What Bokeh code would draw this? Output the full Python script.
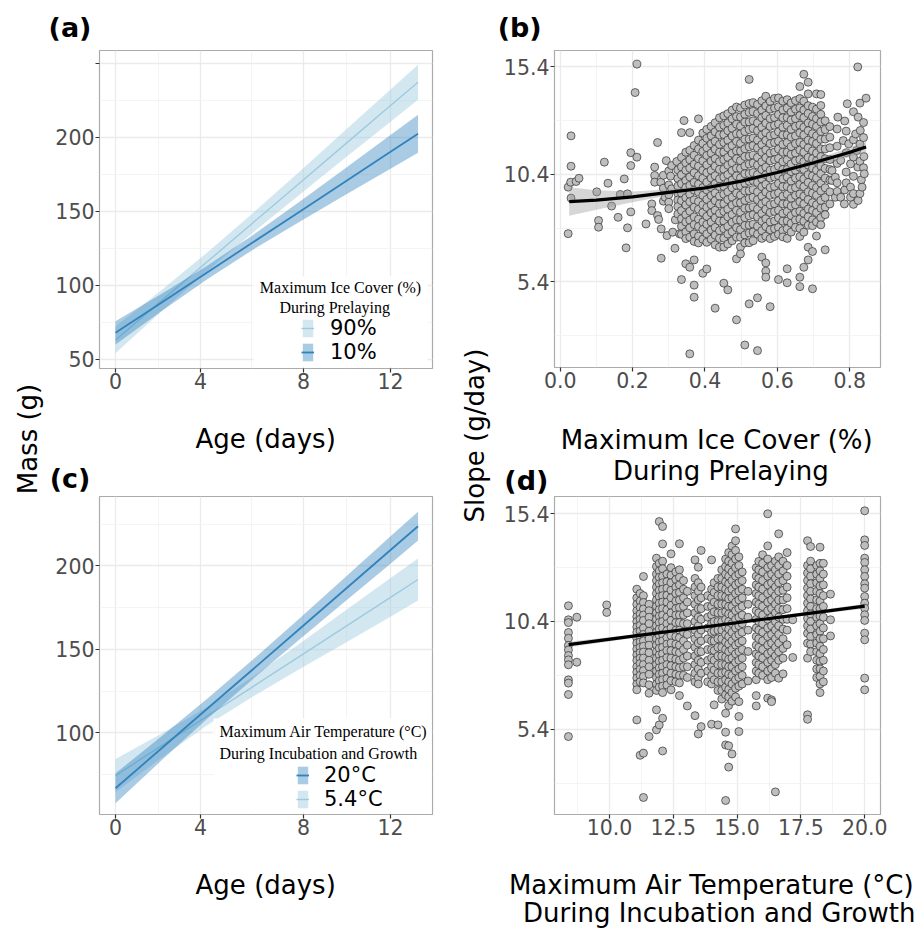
import math
from bokeh.plotting import figure
from bokeh.models import Range1d, FixedTicker, Label, Legend, LegendItem, BoxAnnotation, Div
from bokeh.layouts import row, column
from bokeh.embed import file_html
from bokeh.resources import INLINE

# ------------------------------------------------------------------ data
AGE = [0, 2, 4, 6, 8, 10, 12, 13.2]
AGE_TICKS = [0, 3.71, 8.2, 12]
AGE_TICK_LABELS = ["0", "4", "8", "12"]

# panel (a): predicted mass by ice cover
ICE90_FIT = [63.0, 89.4, 115.8, 142.2, 168.6, 195.0, 221.4, 237.2]
ICE90_LO = [54.0, 82.2, 109.5, 135.6, 160.8, 185.7, 210.5, 225.4]
ICE90_HI = [72.0, 96.6, 122.1, 148.8, 176.4, 204.3, 232.3, 249.0]
ICE10_FIT = [67.8, 88.2, 108.6, 129.0, 149.3, 169.7, 190.1, 202.3]
ICE10_LO = [60.0, 82.4, 104.0, 124.0, 142.5, 160.7, 178.7, 189.5]
ICE10_HI = [75.6, 94.0, 113.2, 134.0, 156.1, 178.7, 201.5, 215.1]

# panel (c): predicted mass by air temperature
T20_FIT = [66.8, 90.6, 114.4, 138.1, 161.9, 185.7, 209.5, 223.7]
T20_LO = [57.8, 83.4, 108.4, 132.3, 155.6, 178.5, 201.3, 215.1]
T20_HI = [75.8, 97.8, 120.4, 143.9, 168.2, 192.9, 217.7, 232.3]
T54_FIT = [74.4, 92.2, 110.0, 127.7, 145.5, 163.3, 181.1, 191.8]
T54_LO = [64.4, 85.0, 104.5, 121.7, 137.9, 153.7, 169.5, 179.2]
T54_HI = [84.4, 99.4, 115.5, 133.7, 153.1, 172.9, 192.7, 204.4]

# panel (b): smooth of slope on ice cover
ICE_SM_X = [0.025, 0.1, 0.2, 0.3, 0.4, 0.5, 0.6, 0.7, 0.8, 0.845]
ICE_SM_Y = [9.13, 9.2, 9.35, 9.56, 9.76, 10.08, 10.48, 10.93, 11.42, 11.66]
ICE_SM_LO = [8.47, 8.75, 9.10, 9.42, 9.66, 9.98, 10.38, 10.80, 11.20, 11.36]
ICE_SM_HI = [9.79, 9.65, 9.60, 9.70, 9.86, 10.18, 10.58, 11.06, 11.64, 11.96]

# panel (d): linear fit of slope on temperature
TMP_SM_X = [8.4, 11, 14, 17, 20]
TMP_SM_Y = [9.33, 9.73, 10.19, 10.65, 11.11]
TMP_SM_LO = [9.20, 9.65, 10.14, 10.58, 11.00]
TMP_SM_HI = [9.46, 9.81, 10.24, 10.72, 11.22]

# panel (b) points: ice cover -> slopes
ICE_GROUPS = {
    0.022: [9.80, 7.64], 0.029: [10.03], 0.030: [12.18, 10.77, 9.29],
    0.044: [10.06], 0.052: [10.21], 0.101: [9.58], 0.106: [8.25, 7.94],
    0.122: [10.96], 0.132: [9.98], 0.142: [8.92], 0.160: [8.40],
    0.166: [9.46], 0.177: [10.18], 0.182: [6.98], 0.186: [9.49, 7.91],
    0.195: [11.40, 10.80, 8.65], 0.207: [14.19], 0.212: [15.51, 11.19],
    0.237: [8.09], 0.253: [9.02, 8.71], 0.261: [10.73, 10.34, 10.03],
    0.269: [11.87, 8.48], 0.272: [8.30], 0.278: [10.03], 0.279: [7.86, 6.50],
    0.285: [10.35, 9.75, 9.15], 0.290: [9.33], 0.293: [11.03], 0.295: [7.55],
    0.300: [10.55, 9.90, 9.45, 9.10, 8.80], 0.305: [10.31], 0.308: [10.80, 9.72],
    0.311: [7.71], 0.317: [6.96], 0.318: [8.28], 0.322: [10.99],
    0.325: [10.60, 10.20, 9.85, 9.50, 9.20, 8.90, 8.55], 0.330: [7.63],
    0.342: [12.89],
    0.335: [12.33, 11.18, 10.74, 10.37, 9.96, 9.52, 9.17, 8.71, 8.33, 7.98, 7.61, 5.51],
    0.347: [11.42, 10.93, 10.58, 10.11, 9.78, 9.31, 8.97, 8.52, 8.18, 7.72, 7.41, 6.24],
    0.358: [12.33, 11.51, 11.07, 10.68, 10.27, 9.88, 9.47, 9.12, 8.68, 8.27, 7.91, 7.48, 6.08, 2.06],
    0.370: [11.73, 11.28, 10.86, 10.47, 10.02, 9.66, 9.21, 8.87, 8.42, 8.06, 7.63, 7.28, 6.42, 5.25, 4.69],
    0.382: [12.97, 11.98, 11.57, 11.12, 10.77, 10.33, 9.94, 9.57, 9.13, 8.77, 8.31, 7.97, 7.52, 7.21],
    0.394: [12.31, 11.83, 11.46, 11.02, 10.58, 10.21, 9.78, 9.42, 8.98, 8.62, 8.18, 7.83, 7.38, 5.80],
    0.405: [12.48, 12.07, 11.63, 11.27, 10.83, 10.47, 10.03, 9.67, 9.23, 8.86, 8.44, 8.07, 7.63, 7.24, 6.00],
    0.417: [12.62, 12.18, 11.81, 11.38, 11.01, 10.58, 10.22, 9.78, 9.41, 8.98, 8.61, 8.18, 7.81, 7.38],
    0.428: [12.79, 12.37, 11.93, 11.56, 11.13, 10.77, 10.33, 9.96, 9.53, 9.17, 8.73, 8.37, 7.93, 7.57, 7.12, 4.18],
    0.440: [13.02, 12.58, 12.22, 11.78, 11.42, 10.98, 10.62, 10.18, 9.82, 9.38, 9.02, 8.58, 8.22, 7.78, 7.42, 7.01],
    0.452: [13.11, 12.67, 12.24, 11.87, 11.43, 11.07, 10.63, 10.27, 9.83, 9.47, 9.03, 8.67, 8.23, 7.87, 7.43, 7.02, 5.34],
    0.463: [13.21, 12.78, 12.42, 11.98, 11.62, 11.18, 10.82, 10.38, 10.02, 9.58, 9.22, 8.78, 8.42, 7.98, 7.62, 7.16, 5.03],
    0.475: [13.38, 12.97, 12.53, 12.17, 11.73, 11.37, 10.93, 10.57, 10.13, 9.77, 9.33, 8.97, 8.53, 8.17, 7.73, 7.31],
    0.487: [13.52, 13.08, 12.72, 12.28, 11.92, 11.48, 11.12, 10.68, 10.32, 9.88, 9.52, 9.08, 8.72, 8.28, 7.92, 7.48, 6.47, 3.64],
    0.498: [13.47, 13.06, 12.63, 12.27, 11.83, 11.47, 11.03, 10.67, 10.23, 9.87, 9.43, 9.07, 8.63, 8.27, 7.83, 7.47, 7.02, 6.70],
    0.510: [13.61, 13.18, 12.82, 12.38, 12.02, 11.58, 11.22, 10.78, 10.42, 9.98, 9.62, 9.18, 8.82, 8.38, 8.02, 7.58, 7.21, 2.47],
    0.522: [14.80, 13.68, 13.27, 12.83, 12.47, 12.03, 11.67, 11.23, 10.87, 10.43, 10.07, 9.63, 9.27, 8.83, 8.47, 8.03, 7.67, 7.22, 4.38],
    0.533: [13.72, 13.31, 12.88, 12.52, 12.08, 11.72, 11.28, 10.92, 10.48, 10.12, 9.68, 9.32, 8.88, 8.52, 8.08, 7.72, 7.31],
    0.545: [13.64, 13.22, 12.78, 12.42, 11.98, 11.62, 11.18, 10.82, 10.38, 10.02, 9.58, 9.22, 8.78, 8.42, 7.98, 7.62, 4.66, 2.21],
    0.557: [13.81, 13.38, 13.02, 12.58, 12.22, 11.78, 11.42, 10.98, 10.62, 10.18, 9.82, 9.38, 9.02, 8.58, 8.22, 7.78, 7.42, 6.55],
    0.568: [14.02, 13.57, 13.13, 12.77, 12.33, 11.97, 11.53, 11.17, 10.73, 10.37, 9.93, 9.57, 9.13, 8.77, 8.33, 7.97, 7.52, 6.28, 5.90, 5.62],
    0.580: [13.78, 13.42, 12.98, 12.62, 12.18, 11.82, 11.38, 11.02, 10.58, 10.22, 9.78, 9.42, 8.98, 8.62, 8.18, 7.82, 7.41, 4.25],
    0.592: [13.92, 13.47, 13.03, 12.67, 12.23, 11.87, 11.43, 11.07, 10.63, 10.27, 9.83, 9.47, 9.03, 8.67, 8.23, 7.87, 7.51],
    0.603: [13.94, 13.53, 13.17, 12.73, 12.37, 11.93, 11.57, 11.13, 10.77, 10.33, 9.97, 9.53, 9.17, 8.73, 8.37, 7.93, 7.61, 5.51],
    0.615: [13.79, 13.38, 13.02, 12.58, 12.22, 11.78, 11.42, 10.98, 10.62, 10.18, 9.82, 9.38, 9.02, 8.58, 8.22, 7.78, 7.49],
    0.627: [13.86, 13.47, 13.03, 12.67, 12.23, 11.87, 11.43, 11.07, 10.63, 10.27, 9.83, 9.47, 9.03, 8.67, 8.23, 7.87, 7.42, 6.01, 5.36],
    0.638: [13.71, 13.28, 12.92, 12.48, 12.12, 11.68, 11.32, 10.88, 10.52, 10.08, 9.72, 9.28, 8.92, 8.48, 8.12, 7.71],
    0.650: [13.82, 13.42, 12.98, 12.62, 12.18, 11.82, 11.38, 11.02, 10.58, 10.22, 9.78, 9.42, 8.98, 8.62, 8.27, 7.93],
    0.662: [14.47, 13.91, 13.48, 13.12, 12.68, 12.32, 11.88, 11.52, 11.08, 10.72, 10.28, 9.92, 9.48, 9.12, 8.68, 8.32, 7.88, 7.51, 5.62, 5.18],
    0.673: [15.04, 13.79, 13.38, 13.02, 12.58, 12.22, 11.78, 11.42, 10.98, 10.62, 10.18, 9.82, 9.38, 9.02, 8.58, 8.22, 7.71, 6.08],
    0.685: [14.67, 14.13, 13.58, 13.22, 12.78, 12.42, 11.98, 11.62, 11.18, 10.82, 10.38, 10.02, 9.58, 9.22, 8.78, 8.42, 8.03, 7.01, 6.42],
    0.697: [13.51, 13.08, 12.72, 12.28, 11.92, 11.48, 11.12, 10.68, 10.32, 9.88, 9.52, 9.08, 8.72, 8.28, 8.01, 6.81, 5.08],
    0.708: [14.13, 13.42, 12.98, 12.62, 12.18, 11.82, 11.38, 11.02, 10.58, 10.22, 9.78, 9.42, 8.98, 8.62, 8.18, 7.53],
    0.720: [14.10, 13.59, 13.18, 12.82, 12.38, 12.02, 11.58, 11.22, 10.78, 10.42, 9.98, 9.62, 9.18, 8.82, 8.38, 8.05],
    0.732: [12.88, 12.47, 12.03, 11.57, 11.12, 10.67, 10.22, 9.77, 9.32, 8.87, 8.52, 6.89],
    0.745: [12.61, 12.12, 11.63, 11.08, 10.62, 10.13, 9.58, 9.02],
    0.751: [10.57, 10.11], 0.760: [10.26, 9.33], 0.765: [12.5, 11.7, 10.9, 10.0, 9.6],
    0.767: [13.05], 0.775: [11.04, 9.33], 0.782: [11.96], 0.785: [9.02],
    0.786: [12.87, 9.67], 0.790: [12.4, 11.4, 10.5, 10.0], 0.793: [13.67],
    0.797: [11.81], 0.802: [10.88, 9.80, 9.33], 0.810: [13.3, 12.0, 11.2, 10.3, 9.5, 9.0],
    0.816: [12.27], 0.819: [11.50], 0.822: [15.38, 10.73], 0.823: [13.05, 9.18],
    0.828: [13.7, 11.8, 11.0, 9.5], 0.829: [12.43], 0.832: [10.14], 0.834: [9.80],
    0.838: [12.8, 12.1, 10.7], 0.839: [11.22], 0.840: [10.42], 0.845: [13.93],
}

# panel (d) points: max air temperature -> slopes
TEMP_GROUPS = {
    8.39: [11.13, 10.48, 10.35, 9.89, 9.62, 9.29, 9.08, 8.82, 8.62, 8.39, 7.69, 7.54, 7.01, 5.06],
    8.72: [10.6, 8.51],
    9.89: [11.17, 10.82],
    11.07: [11.9, 11.5, 11.2, 10.9, 10.62, 10.4, 10.15, 9.9, 9.62, 9.4, 9.12, 8.85, 8.6, 8.3, 8.05, 7.78, 7.5, 7.23, 5.83],
    11.2: [11.7, 11.35, 11.05, 10.75, 10.5, 10.22, 9.95, 9.7, 9.45, 9.2, 8.95, 8.7, 8.45, 8.18, 7.9, 7.6, 4.19],
    11.33: [12.49, 11.6, 11.28, 10.98, 10.7, 10.45, 10.1, 9.8, 9.5, 9.25, 8.98, 8.7, 8.4, 8.12, 7.85, 7.55, 4.29, 2.23],
    11.55: [11.2, 10.9, 10.6, 10.3, 9.95, 9.6, 9.3, 8.95, 8.6, 8.3, 7.95, 7.46, 7.07, 5.06],
    11.84: [13.34, 12.95, 12.6, 12.3, 12.0, 11.7, 11.4, 11.1, 10.8, 10.5, 10.2, 9.9, 9.6, 9.3, 9.0, 8.7, 8.4, 8.1, 7.8, 7.5, 7.2, 6.30, 5.37],
    11.95: [15.04, 13.1, 12.75, 12.45, 12.15, 11.85, 11.55, 11.25, 10.95, 10.65, 10.35, 10.05, 9.75, 9.45, 9.15, 8.85, 8.55, 8.25, 7.95, 7.65, 7.35, 5.6],
    12.08: [14.81, 14.0, 13.2, 12.85, 12.5, 12.2, 11.9, 11.6, 11.3, 11.0, 10.7, 10.4, 10.1, 9.8, 9.5, 9.2, 8.9, 8.6, 8.3, 8.0, 7.7, 7.4, 7.1, 5.91, 4.39],
    12.25: [12.6, 12.25, 11.95, 11.62, 11.3, 10.95, 10.6, 10.3, 9.98, 9.65, 9.35, 9.05, 8.72, 8.4, 8.1, 7.75, 7.45],
    12.41: [13.54, 12.9, 12.55, 12.2, 11.85, 11.5, 11.15, 10.8, 10.45, 10.1, 9.75, 9.4, 9.05, 8.7, 8.35, 8.0, 7.65, 7.23],
    12.6: [12.7, 12.35, 12.0, 11.7, 11.35, 11.0, 10.7, 10.35, 10.0, 9.7, 9.35, 9.0, 8.65, 8.3, 7.95, 7.6],
    12.74: [14.01, 12.8, 12.45, 12.1, 11.75, 11.4, 11.05, 10.7, 10.35, 10.0, 9.65, 9.3, 8.95, 8.6, 8.25, 7.9, 7.55, 6.96],
    12.9: [12.3, 11.9, 11.5, 11.1, 10.7, 10.3, 9.9, 9.5, 9.1, 8.7, 8.3, 7.9],
    13.05: [11.8, 11.3, 10.8, 10.3, 9.8, 9.3, 8.8, 8.3, 7.8, 6.48],
    13.35: [13.26, 12.4, 12.0, 11.6, 11.2, 10.8, 10.4, 10.0, 9.6, 9.2, 8.8, 8.4, 8.0, 7.6, 6.03],
    13.48: [12.92, 12.2, 11.8, 11.4, 11.0, 10.6, 10.2, 9.8, 9.4, 9.0, 8.6, 8.2, 7.8, 7.5, 5.18],
    13.59: [13.7, 12.0, 11.5, 11.0, 10.5, 10.0, 9.5, 9.0, 8.5, 8.0, 5.52],
    13.85: [11.6, 11.1, 10.6, 10.1, 9.6, 9.1, 8.6, 8.1, 7.6],
    14.0: [13.26, 11.9, 11.5, 11.1, 10.7, 10.3, 9.9, 9.5, 9.1, 8.7, 8.3, 7.9, 7.5, 5.63],
    14.1: [12.2, 11.75, 11.3, 10.85, 10.4, 9.95, 9.5, 9.05, 8.6, 8.15, 7.7, 6.53],
    14.25: [12.4, 12.0, 11.6, 11.2, 10.8, 10.4, 10.0, 9.6, 9.2, 8.8, 8.4, 8.0, 7.6, 7.2, 5.6],
    14.4: [12.8, 12.4, 12.0, 11.6, 11.2, 10.8, 10.4, 10.0, 9.6, 9.2, 8.8, 8.4, 8.0, 7.6, 7.2, 6.8],
    14.55: [13.3, 12.95, 12.6, 12.25, 11.9, 11.55, 11.2, 10.85, 10.5, 10.15, 9.8, 9.45, 9.1, 8.75, 8.4, 8.05, 7.7, 7.35, 7.0, 6.14, 5.26, 4.67, 2.09],
    14.67: [13.6, 13.2, 12.85, 12.5, 12.15, 11.8, 11.45, 11.1, 10.75, 10.4, 10.05, 9.7, 9.35, 9.0, 8.65, 8.3, 7.95, 7.6, 7.25, 6.9, 6.5, 4.63, 3.64],
    14.8: [13.9, 13.5, 13.1, 12.7, 12.3, 11.9, 11.5, 11.1, 10.7, 10.3, 9.9, 9.5, 9.1, 8.7, 8.3, 7.9, 7.5, 7.1, 6.7, 4.25],
    14.94: [14.7, 14.15, 13.7, 13.3, 12.9, 12.5, 12.1, 11.7, 11.3, 10.9, 10.5, 10.1, 9.7, 9.3, 8.9, 8.5, 8.1, 7.7, 7.3, 6.9],
    15.07: [13.4, 13.0, 12.6, 12.2, 11.8, 11.4, 11.0, 10.6, 10.2, 9.8, 9.4, 9.0, 8.6, 8.2, 7.8, 7.4, 6.68, 5.99, 5.29],
    15.2: [12.7, 12.3, 11.9, 11.5, 11.1, 10.7, 10.3, 9.9, 9.5, 9.1, 8.7, 8.3, 7.9, 7.5],
    15.43: [11.8, 11.2, 10.6, 10.0, 9.01, 7.64],
    15.75: [12.9, 12.5, 12.1, 11.7, 11.3, 10.9, 10.5, 10.1, 9.7, 9.3, 8.9, 8.5, 8.1, 7.7, 6.96, 6.48],
    15.85: [13.19, 12.8, 12.4, 12.0, 11.6, 11.2, 10.8, 10.4, 10.0, 9.6, 9.2, 8.8, 8.4, 8.0],
    16.0: [13.5, 13.1, 12.7, 12.3, 11.9, 11.5, 11.1, 10.7, 10.3, 9.9, 9.5, 9.1, 8.7, 8.3, 7.9],
    16.2: [15.4, 13.91, 13.3, 12.9, 12.5, 12.1, 11.7, 11.3, 10.9, 10.5, 10.1, 9.7, 9.3, 8.9, 8.5, 8.1, 7.7, 6.84],
    16.35: [13.0, 12.6, 12.2, 11.8, 11.4, 11.0, 10.6, 10.2, 9.8, 9.4, 9.0, 8.6, 8.2, 7.8, 6.76, 6.68],
    16.5: [13.2, 12.8, 12.4, 12.0, 11.6, 11.2, 10.8, 10.4, 10.0, 9.6, 9.2, 8.8, 8.4, 8.0, 2.49],
    16.63: [14.47, 13.4, 13.0, 12.6, 12.2, 11.8, 11.4, 11.0, 10.6, 10.2, 9.8, 9.4, 9.0, 8.6, 7.77],
    16.8: [13.2, 12.75, 12.3, 11.85, 11.4, 10.95, 10.5, 10.05, 9.6, 9.15, 8.7, 7.97],
    16.96: [13.6, 13.0, 12.5, 12.0, 11.5, 11.0, 10.5, 10.0, 9.32],
    17.18: [10.48, 8.73],
    17.76: [14.15, 13.0, 12.65, 12.3, 11.95, 11.6, 11.25, 10.9, 10.55, 10.2, 9.85, 9.39, 8.7, 6.07, 5.86],
    17.88: [13.88, 13.2, 12.85, 12.5, 12.15, 11.8, 11.45, 11.1, 10.75, 10.4, 10.05, 9.7, 9.35, 9.0],
    18.12: [13.0, 12.6, 12.2, 11.8, 11.4, 11.0, 10.6, 10.2, 9.8, 9.4, 9.0, 8.6, 8.2, 7.8],
    18.25: [13.85, 13.1, 12.75, 12.4, 12.05, 11.7, 11.35, 11.0, 10.65, 10.3, 9.95, 9.6, 9.25, 8.9, 8.55, 8.2, 7.85, 7.5, 7.1],
    18.38: [13.1, 12.6, 12.1, 11.6, 11.1, 10.6, 10.1, 9.6, 9.1, 8.6, 8.1, 7.6],
    18.66: [11.67, 10.48, 9.73],
    20.0: [15.54, 14.19, 13.93, 13.34, 13.14, 12.8, 12.49, 12.15, 11.95, 11.56, 11.25, 11.02, 10.71, 10.45, 9.86, 9.55, 7.77, 7.23],
}

# ------------------------------------------------------------------ style
SANS = "DejaVu Sans"
SERIF = "Liberation Serif"
TICK_SIZE = 20.5
TITLE_SIZE = 26
LETTER_SIZE = 27
LEG_TITLE_SIZE = 16
LIGHT = "#9ECAE1"
DARK = "#3182BD"
MID = 0.31       # 'middle' anchor above the baseline (em), for canvas labels
ASC = 0.846      # baseline below the top of a line-height:1 box (em), DejaVu Sans

CFG = {
    "a": dict(left=50, top=49, w=405, h=351, bl=49, br=23, bt=1, bb=32,
              xr=(-0.698, 13.831), yr=(43.7, 258.6)),
    "c": dict(left=50, top=495, w=405, h=351, bl=49, br=23, bt=1, bb=32,
              xr=(-0.698, 13.831), yr=(51.1, 241.5)),
    "b": dict(left=497, top=49, w=423, h=350, bl=57, br=40, bt=1, bb=32,
              xr=(-0.0157, 0.8848), yr=(1.426, 16.143)),
    "d": dict(left=497, top=495, w=423, h=351, bl=57, br=40, bt=1, bb=32,
              xr=(7.845, 20.619), yr=(1.44, 16.203)),
}


def to_data(cfg, ix, iy):
    fl = cfg["left"] + cfg["bl"]
    fr = cfg["left"] + cfg["w"] - cfg["br"]
    ft = cfg["top"] + cfg["bt"]
    fb = cfg["top"] + cfg["h"] - cfg["bb"]
    x0, x1 = cfg["xr"]
    y0, y1 = cfg["yr"]
    return (x0 + (ix - fl) / (fr - fl) * (x1 - x0),
            y1 - (iy - ft) / (fb - ft) * (y1 - y0))


def frame_text(p, cfg, ix, baseline, text, font, size, align="center"):
    x, y = to_data(cfg, ix, baseline - MID * size)
    p.add_layout(Label(x=x, y=y, text=text, text_font=font, text_font_size=f"{size}px",
                       text_align=align, text_baseline="middle", text_color="black"))


def white_box(p, cfg, l, t, r, b):
    x0, y0 = to_data(cfg, l, b)
    x1, y1 = to_data(cfg, r, t)
    p.add_layout(BoxAnnotation(left=x0, right=x1, bottom=y0, top=y1,
                               fill_color="white", fill_alpha=1.0,
                               line_alpha=0, level="annotation"))


def text_block(left, top, w, h, items):
    """Texts lying between the plot frames (axis titles, panel letters)."""
    spans = []
    for it in items:
        size = it.get("size", TITLE_SIZE)
        weight = "bold" if it.get("bold") else "normal"
        x = it["x"] - left
        y = it["base"] - top - ASC * size
        spans.append(
            f'<span style="position:absolute;left:{x:.1f}px;top:{y:.1f}px;'
            f'transform:translateX(-50%);font-family:\'DejaVu Sans\';'
            f'font-size:{size}px;font-weight:{weight};line-height:1;'
            f'white-space:nowrap;color:#000000;">{it["text"]}</span>')
    html = (f'<div style="position:relative;width:{w}px;height:{h}px;'
            f'overflow:visible;margin:0;padding:0;">' + "".join(spans) + "</div>")
    return Div(text=html, width=w, height=h, margin=0)


def y_title_strip(left, w, h, text, base, cy):
    s = figure(width=w, height=h, x_range=Range1d(0, w), y_range=Range1d(0, h),
               x_axis_location=None, y_axis_location=None,
               output_backend="svg", toolbar_location=None, title=None,
               min_border=0, min_border_left=0, min_border_right=0,
               min_border_top=0, min_border_bottom=0)
    s.outline_line_color = None
    s.grid.visible = False
    s.add_layout(Label(x=(base - left) - MID * TITLE_SIZE, y=h - cy, text=text,
                       angle=math.pi / 2, angle_units="rad", text_font=SANS,
                       text_font_size=f"{TITLE_SIZE}px", text_align="center",
                       text_baseline="middle", text_color="black"))
    return s


def make_panel(cfg, xticks, xminor, yticks, yminor, xlabels=None, ylabels=None):
    p = figure(width=cfg["w"], height=cfg["h"],
               x_range=Range1d(*cfg["xr"]), y_range=Range1d(*cfg["yr"]),
               output_backend="svg", toolbar_location=None, title=None,
               min_border_left=cfg["bl"], min_border_right=cfg["br"],
               min_border_top=cfg["bt"], min_border_bottom=cfg["bb"])
    p.outline_line_color = "#ABABAB"
    p.outline_line_width = 1.2
    p.background_fill_color = "white"
    p.border_fill_color = "white"
    xt = FixedTicker(ticks=xticks, minor_ticks=xminor)
    yt = FixedTicker(ticks=yticks, minor_ticks=yminor)
    p.xaxis.ticker = xt
    p.xgrid.ticker = xt
    p.yaxis.ticker = yt
    p.ygrid.ticker = yt
    if xlabels:
        p.xaxis.major_label_overrides = xlabels
    if ylabels:
        p.yaxis.major_label_overrides = ylabels
    for ax in (p.xaxis, p.yaxis):
        ax.axis_line_color = None
        ax.major_tick_line_color = "#333333"
        ax.major_tick_line_width = 1.2
        ax.major_tick_in = 0
        ax.major_tick_out = 4
        ax.minor_tick_line_color = None
        ax.major_label_text_font = SANS
        ax.major_label_text_font_size = f"{TICK_SIZE}px"
        ax.major_label_text_color = "#4D4D4D"
    p.xaxis.major_label_standoff = 0
    p.yaxis.major_label_standoff = 1
    for g in (p.xgrid, p.ygrid):
        g.grid_line_color = "#EBEBEB"
        g.grid_line_width = 1.3
        g.minor_grid_line_color = "#F1F1F1"
        g.minor_grid_line_width = 0.8
    return p


def band_panel(cfg, yticks, yminor, ylabels, series):
    mids = [(AGE_TICKS[i] + AGE_TICKS[i + 1]) / 2 for i in range(len(AGE_TICKS) - 1)]
    xl = dict(zip(AGE_TICKS, AGE_TICK_LABELS))
    p = make_panel(cfg, AGE_TICKS, mids, yticks, yminor, xlabels=xl, ylabels=ylabels)
    handles = {}
    for name, lo, hi, fit, col, lw in series:
        rb = p.varea(x=AGE, y1=lo, y2=hi, fill_color=col,
                     fill_alpha=0.45 if col == LIGHT else 0.42)
        rl = p.line(AGE, fit, line_color=col, line_width=lw)
        handles[name] = [rb, rl]
    return p, handles


def add_legend(p, items, loc, standoff):
    lg = Legend(items=[LegendItem(label=n, renderers=r) for n, r in items],
                location=loc, orientation="vertical", padding=0, margin=0,
                spacing=0, glyph_width=13, glyph_height=22, label_height=22,
                label_standoff=standoff, border_line_alpha=0,
                background_fill_alpha=0, label_text_font=SANS,
                label_text_font_size="21px", label_text_color="black")
    p.add_layout(lg)


# ------------------------------------------------------------------ panel (a)
ca = CFG["a"]
pa, ha = band_panel(ca, [50, 100, 150, 200, 250], [75, 125, 175, 225], {250: ""},
                    [("90%", ICE90_LO, ICE90_HI, ICE90_FIT, LIGHT, 1.4),
                     ("10%", ICE10_LO, ICE10_HI, ICE10_FIT, DARK, 1.8)])
white_box(pa, ca, 253, 276, 427, 366)
add_legend(pa, [("90%", ha["90%"]), ("10%", ha["10%"])], (202, 4), 16)
frame_text(pa, ca, 340, 291.7, "Maximum Ice Cover (%)", SERIF, LEG_TITLE_SIZE)
frame_text(pa, ca, 334.2, 311.7, "During Prelaying", SERIF, LEG_TITLE_SIZE)

# ------------------------------------------------------------------ panel (c)
cc = CFG["c"]
pc, hc = band_panel(cc, [100, 150, 200], [75, 125, 175, 225], None,
                    [("5.4°C", T54_LO, T54_HI, T54_FIT, LIGHT, 1.4),
                     ("20°C", T20_LO, T20_HI, T20_FIT, DARK, 1.8)])
white_box(pc, cc, 213, 718, 431, 812)
add_legend(pc, [("20°C", hc["20°C"]), ("5.4°C", hc["5.4°C"])], (197, 3), 15)
frame_text(pc, cc, 219, 736, "Maximum Air Temperature (°C)", SERIF, LEG_TITLE_SIZE, align="left")
frame_text(pc, cc, 219, 757.7, "During Incubation and Growth", SERIF, LEG_TITLE_SIZE, align="left")

# ------------------------------------------------------------------ panel (b)
cb = CFG["b"]
pb = make_panel(cb, [0.0, 0.2, 0.4, 0.6, 0.8], [0.1, 0.3, 0.5, 0.7],
                [5.4, 10.4, 15.4], [2.9, 7.9, 12.9],
                xlabels={0.0: "0.0", 0.2: "0.2", 0.4: "0.4", 0.6: "0.6", 0.8: "0.8"})
bx = [x for x, ys in ICE_GROUPS.items() for _ in ys]
by = [y for ys in ICE_GROUPS.values() for y in ys]
pb.scatter(bx, by, size=8, marker="circle", fill_color="#BEBEBE",
           line_color="#2E2E2E", line_width=0.7)
pb.varea(x=ICE_SM_X, y1=ICE_SM_LO, y2=ICE_SM_HI, fill_color="#999999", fill_alpha=0.4)
pb.line(ICE_SM_X, ICE_SM_Y, line_color="black", line_width=3.2)

# ------------------------------------------------------------------ panel (d)
cd = CFG["d"]
pd_ = make_panel(cd, [10, 12.5, 15, 17.5, 20], [8.75, 11.25, 13.75, 16.25, 18.75],
                 [5.4, 10.4, 15.4], [2.9, 7.9, 12.9],
                 xlabels={10: "10.0", 12.5: "12.5", 15: "15.0", 17.5: "17.5", 20: "20.0"})
dx = [x for x, ys in TEMP_GROUPS.items() for _ in ys]
dy = [y for ys in TEMP_GROUPS.values() for y in ys]
pd_.scatter(dx, dy, size=8, marker="circle", fill_color="#BEBEBE",
            line_color="#2E2E2E", line_width=0.7)
pd_.varea(x=TMP_SM_X, y1=TMP_SM_LO, y2=TMP_SM_HI, fill_color="#999999", fill_alpha=0.4)
pd_.line(TMP_SM_X, TMP_SM_Y, line_color="black", line_width=3.2)

# ------------------------------------------------------------------ texts between frames
T1 = text_block(50, 0, 405, 49, [dict(x=70, base=36.7, text="(a)", size=LETTER_SIZE, bold=True)])
M1 = text_block(50, 400, 405, 95, [dict(x=265.7, base=448.3, text="Age (days)"),
                                   dict(x=70, base=488, text="(c)", size=LETTER_SIZE, bold=True)])
B1 = text_block(50, 846, 405, 86, [dict(x=265.7, base=894.3, text="Age (days)")])
T2 = text_block(497, 0, 423, 49, [dict(x=519.7, base=36.7, text="(b)", size=LETTER_SIZE, bold=True)])
M2 = text_block(497, 399, 423, 96, [dict(x=716.7, base=449, text="Maximum Ice Cover (%)"),
                                    dict(x=720.8, base=480, text="During Prelaying"),
                                    dict(x=526.3, base=490, text="(d)", size=LETTER_SIZE, bold=True)])
B2 = text_block(497, 846, 423, 86, [dict(x=711.3, base=893.5, text="Maximum Air Temperature (°C)"),
                                    dict(x=719.2, base=922, text="During Incubation and Growth")])
SL = y_title_strip(0, 50, 932, "Mass (g)", 36, 438.5)
SM = y_title_strip(455, 42, 932, "Slope (g/day)", 483, 435)

layout = row(SL, column(T1, pa, M1, pc, B1), SM, column(T2, pb, M2, pd_, B2))
open("out.html", "w").write(file_html(layout, INLINE, title="plot"))
